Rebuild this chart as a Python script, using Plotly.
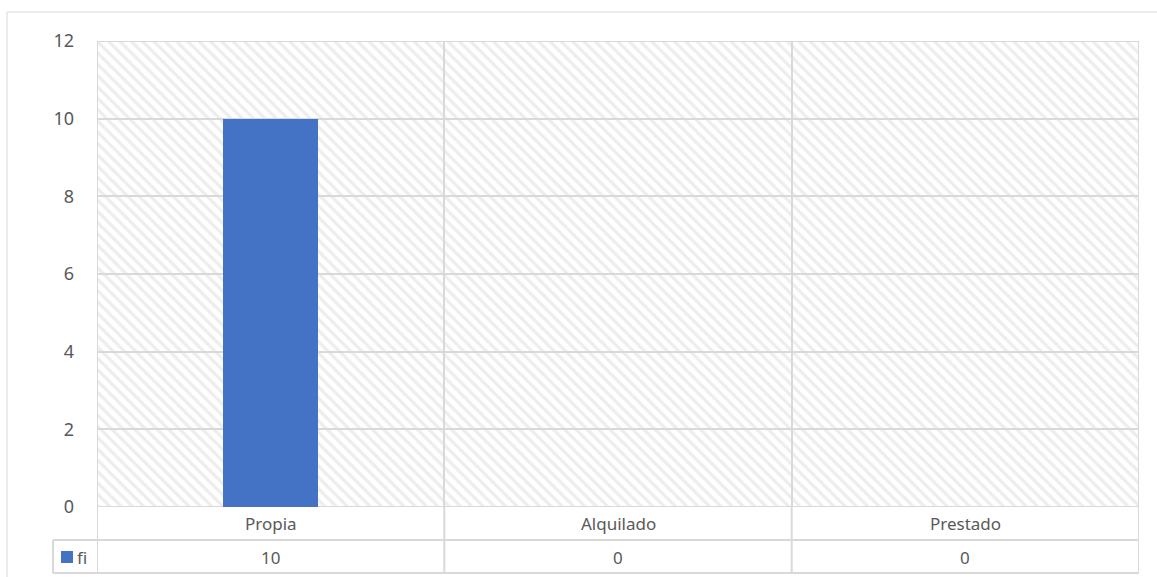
import plotly.graph_objects as go

# Datos
categorias = ["Propia", "Alquilado", "Prestado"]
fi = [10, 0, 0]
serie = "fi"
y_max = 12
y_dtick = 2

W, H = 1157, 577
L, R, T, B = 97, 1139, 41, 507  # área de trazado en píxeles

AZUL = "#4472C4"
GRIS = "#d9d9d9"
TEXTO = "#595959"
FUENTE = "Noto Sans"


def px_x(p):
    return (p - L) / (R - L)


def px_y(p):
    return (B - p) / (B - T)


fig = go.Figure()

# fondo rayado del área de trazado, en franjas para que el borde haga de rejilla
for base in range(0, y_max, y_dtick):
    fig.add_trace(go.Bar(
        x=categorias, y=[y_dtick] * len(categorias), base=base, width=1,
        marker=dict(color="white", line=dict(color=GRIS, width=2),
                    pattern=dict(shape="\\", fgcolor="#dcdcdc",
                                 bgcolor="white", size=8, solidity=0.4)),
        hoverinfo="skip", showlegend=False
    ))

fig.add_trace(go.Bar(
    x=categorias, y=fi, width=0.274, name=serie,
    marker=dict(color=AZUL, line_width=0), showlegend=False
))

# líneas de la tabla de datos
fila1 = px_y(540)
fila2 = px_y(573)
shapes = []
for i in range(len(categorias) + 1):
    shapes.append(dict(type="line", xref="x", yref="paper",
                       x0=i - 0.5, x1=i - 0.5, y0=fila2, y1=0,
                       line=dict(color=GRIS, width=2)))
for yy in (fila1, fila2):
    shapes.append(dict(type="line", xref="paper", yref="paper",
                       x0=px_x(53), x1=1, y0=yy, y1=yy,
                       line=dict(color=GRIS, width=2)))
shapes.append(dict(type="line", xref="paper", yref="paper",
                   x0=px_x(53), x1=px_x(53), y0=fila1, y1=fila2,
                   line=dict(color=GRIS, width=2)))
# borde exterior del gráfico
shapes.append(dict(type="line", xref="paper", yref="paper",
                   x0=px_x(7), x1=px_x(W), y0=px_y(12), y1=px_y(12),
                   line=dict(color=GRIS, width=1)))
shapes.append(dict(type="line", xref="paper", yref="paper",
                   x0=px_x(7), x1=px_x(7), y0=px_y(12), y1=px_y(H),
                   line=dict(color=GRIS, width=1)))
# marcador de leyenda
shapes.append(dict(type="rect", xref="paper", yref="paper",
                   x0=px_x(61), x1=px_x(73), y0=px_y(563), y1=px_y(551),
                   fillcolor=AZUL, line_width=0))

annotations = []
for cat, val in zip(categorias, fi):
    annotations.append(dict(x=cat, y=px_y(523), xref="x", yref="paper",
                            text=cat, showarrow=False, yanchor="middle",
                            font=dict(family=FUENTE, size=17, color=TEXTO)))
    annotations.append(dict(x=cat, y=px_y(557), xref="x", yref="paper",
                            text=str(val), showarrow=False, yanchor="middle",
                            font=dict(family=FUENTE, size=17, color=TEXTO)))
annotations.append(dict(x=px_x(75), y=px_y(557), xref="paper", yref="paper",
                        text=serie, showarrow=False, xanchor="left",
                        yanchor="middle",
                        font=dict(family=FUENTE, size=17, color=TEXTO)))

fig.update_layout(
    width=W, height=H,
    margin=dict(l=L, r=W - R, t=T, b=H - B),
    paper_bgcolor="white", plot_bgcolor="white",
    barmode="overlay", bargap=0,
    shapes=shapes, annotations=annotations,
    xaxis=dict(showticklabels=False, showgrid=False, zeroline=False,
               range=[-0.5, len(categorias) - 0.5]),
    yaxis=dict(range=[0, y_max], dtick=y_dtick, showgrid=False,
               zeroline=False, ticklabelstandoff=22,
               tickfont=dict(family=FUENTE, size=18, color=TEXTO)),
    font=dict(family=FUENTE, color=TEXTO),
)

fig.write_html("out.html", config={"displayModeBar": False},
               post_script="document.body.style.margin='0';")
